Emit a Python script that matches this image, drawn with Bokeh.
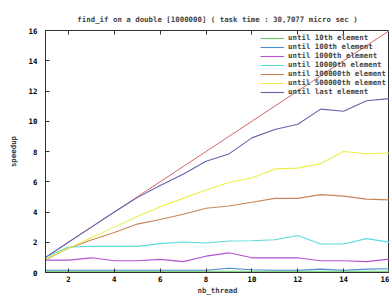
from bokeh.plotting import figure
from bokeh.models import LinearAxis, Range1d, Legend, LegendItem, FixedTicker
from bokeh.embed import file_html
from bokeh.resources import INLINE

threads = list(range(1, 17))
ideal = [1, 2, 3, 4, 5, 6, 7, 8, 9, 10, 11, 12, 13, 14, 15, 16]
until_10 = [0.08, 0.08, 0.08, 0.08, 0.08, 0.08, 0.08, 0.08, 0.08, 0.08, 0.08, 0.08, 0.08, 0.08, 0.08, 0.08]
until_100 = [0.15, 0.15, 0.15, 0.15, 0.15, 0.15, 0.15, 0.15, 0.28, 0.18, 0.15, 0.15, 0.22, 0.15, 0.22, 0.25]
until_1000 = [0.82, 0.82, 0.97, 0.78, 0.78, 0.87, 0.72, 1.08, 1.3, 0.97, 0.97, 0.97, 0.78, 0.78, 0.72, 0.89]
until_10000 = [1.0, 1.69, 1.73, 1.73, 1.73, 1.91, 2.02, 1.95, 2.08, 2.1, 2.17, 2.45, 1.88, 1.88, 2.24, 2.0]
until_100000 = [0.85, 1.6, 2.15, 2.65, 3.2, 3.5, 3.85, 4.25, 4.4, 4.65, 4.9, 4.9, 5.15, 5.05, 4.85, 4.8]
until_500000 = [0.9, 1.6, 2.3, 3.0, 3.7, 4.35, 4.9, 5.45, 5.95, 6.25, 6.85, 6.9, 7.2, 8.0, 7.85, 7.9]
until_last = [1.0, 2.0, 3.0, 4.0, 4.95, 5.75, 6.5, 7.35, 7.84, 8.9, 9.45, 9.8, 10.8, 10.66, 11.36, 11.5]

series_names = ["until 10th element", "until 100th element", "until 1000th element",
                "until 10000th element", "until 100000th element", "until 500000th element",
                "until last element"]
series_values = [until_10, until_100, until_1000, until_10000, until_100000, until_500000, until_last]
series_colors = ["#66c866", "#4a8ccc", "#b452d2", "#5ddcdc", "#c8845a", "#eeee4a", "#6a62ac"]

x_ticks = [2, 4, 6, 8, 10, 12, 14, 16]
y_ticks = [0, 2, 4, 6, 8, 10, 12, 14, 16]

FONT = "DejaVu Sans Mono"
FS = "7.4px"

p = figure(width=389, height=297, output_backend="svg", toolbar_location=None,
           x_range=Range1d(1, 16), y_range=Range1d(0, 16),
           min_border_left=45, min_border_right=0, min_border_top=30, min_border_bottom=21)

p.title.text = "find_if on a double [1000000] ( task time : 30,7077 micro sec )"
p.title.align = "center"
p.title.text_font = FONT
p.title.text_font_size = FS
p.title.text_font_style = "bold"
p.title.standoff = 14
p.title.offset = 0

p.grid.visible = False
p.outline_line_color = "#303030"
p.outline_line_width = 1
p.background_fill_color = "white"
p.border_fill_color = "white"

for ax in (p.xaxis[0], p.yaxis[0]):
    ax.major_tick_in = 4
    ax.major_tick_out = 0
    ax.minor_tick_line_color = None
    ax.axis_line_color = "#303030"
    ax.major_tick_line_color = "#303030"
    ax.major_label_text_font = FONT
    ax.major_label_text_font_size = FS
    ax.major_label_text_font_style = "bold"
    ax.major_label_text_color = "black"
    ax.axis_label_text_font = FONT
    ax.axis_label_text_font_size = FS
    ax.axis_label_text_font_style = "bold"

p.xaxis[0].ticker = FixedTicker(ticks=x_ticks)
p.yaxis[0].ticker = FixedTicker(ticks=y_ticks)
p.xaxis[0].axis_label = "nb_thread"
p.yaxis[0].axis_label = "speedup"
p.xaxis[0].major_label_standoff = 3
p.yaxis[0].major_label_standoff = 8
p.xaxis[0].axis_label_standoff = 1
p.yaxis[0].axis_label_standoff = 8

top = LinearAxis(ticker=FixedTicker(ticks=x_ticks), major_tick_in=4, major_tick_out=0,
                 major_label_text_color=None, major_label_standoff=0,
                 minor_tick_line_color=None,
                 axis_line_color=None, major_tick_line_color="#303030")
p.add_layout(top, "above")

p.line(threads, ideal, line_color="#d86464", line_width=1)

items = []
for name, vals, col in zip(series_names, series_values, series_colors):
    r = p.line(threads, vals, line_color=col, line_width=1.1)
    items.append(LegendItem(label=name, renderers=[r]))

legend = Legend(items=items, location="top_right",
                background_fill_alpha=0, border_line_color=None,
                label_text_font=FONT, label_text_font_size=FS, label_text_font_style="bold",
                label_height=8, glyph_height=8, glyph_width=24, spacing=0, padding=0,
                margin=3, label_standoff=4)
p.add_layout(legend)

open("out.html", "w").write(file_html(p, INLINE))
